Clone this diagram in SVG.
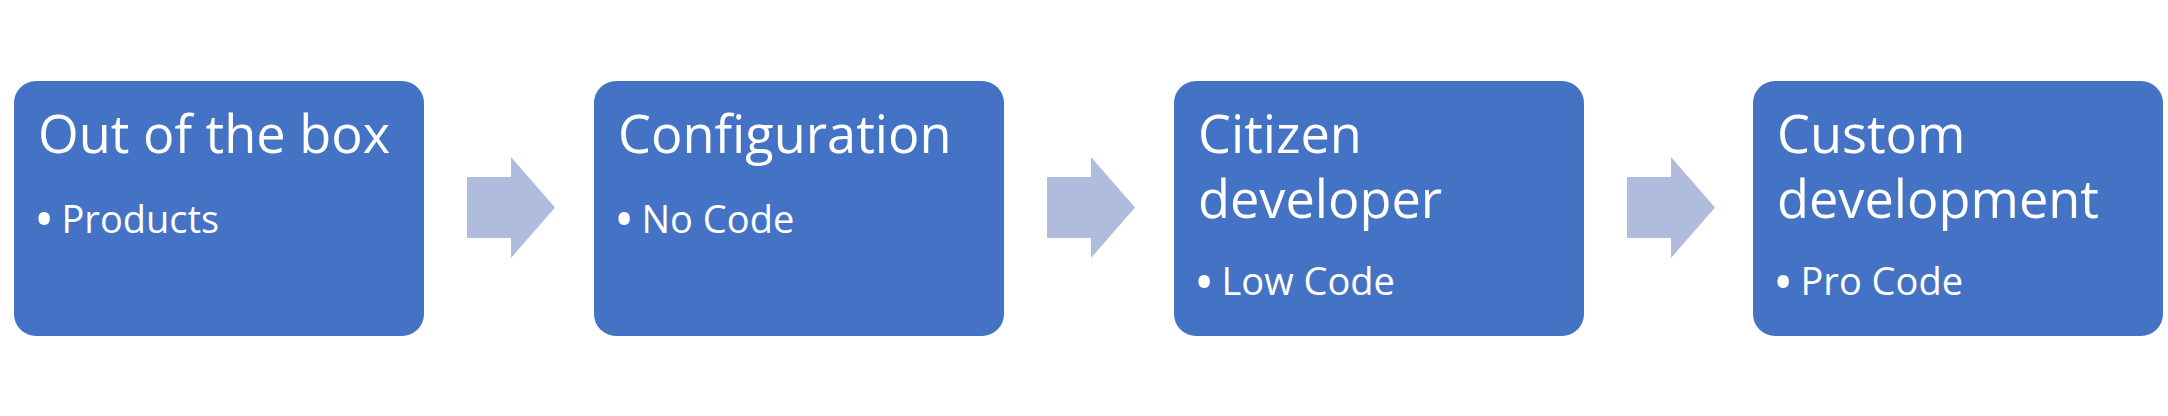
<svg xmlns="http://www.w3.org/2000/svg" width="2168" height="416" viewBox="0 0 2168 416">
<style>
.box{fill:#4472C4}
.arr{fill:#B0BCDE}
.t{font-family:"Open Sans","Noto Sans",sans-serif;fill:#FFFFFF;font-size:52.3px}
.b{font-family:"Open Sans","Noto Sans",sans-serif;fill:#FFFFFF;font-size:38px}
.d{font-size:54px}
</style>
<rect width="2168" height="416" fill="#FFFFFF"/>
<g id="connectors">
<polygon class="arr" points="467,177 511,177 511,157 555,207.5 511,258 511,238 467,238"/>
<polygon class="arr" points="1047,177 1091,177 1091,157 1135,207.5 1091,258 1091,238 1047,238"/>
<polygon class="arr" points="1627,177 1671,177 1671,157 1715,207.5 1671,258 1671,238 1627,238"/>
</g>
<g id="node1">
<rect class="box" x="14" y="81" width="410" height="255" rx="22"/>
<text class="t" x="38" y="152.5">Out of the box</text>
<text class="b" y="232.7"><tspan class="d" x="34" dy="6.5">•</tspan><tspan x="61.5" dy="-6.5">Products</tspan></text>
</g>
<g id="node2">
<rect class="box" x="594" y="81" width="410" height="255" rx="22"/>
<text class="t" x="618" y="152.5">Configuration</text>
<text class="b" y="232.7"><tspan class="d" x="614" dy="6.5">•</tspan><tspan x="641.5" dy="-6.5">No Code</tspan></text>
</g>
<g id="node3">
<rect class="box" x="1174" y="81" width="410" height="255" rx="22"/>
<text class="t" x="1198" y="152.5">Citizen</text>
<text class="t" x="1198" y="217.5">developer</text>
<text class="b" y="295"><tspan class="d" x="1194" dy="6.5">•</tspan><tspan x="1221.5" dy="-6.5">Low Code</tspan></text>
</g>
<g id="node4">
<rect class="box" x="1753" y="81" width="410" height="255" rx="22"/>
<text class="t" x="1777" y="152.5">Custom</text>
<text class="t" x="1777" y="217.5">development</text>
<text class="b" y="295"><tspan class="d" x="1773" dy="6.5">•</tspan><tspan x="1800.5" dy="-6.5">Pro Code</tspan></text>
</g>
</svg>
